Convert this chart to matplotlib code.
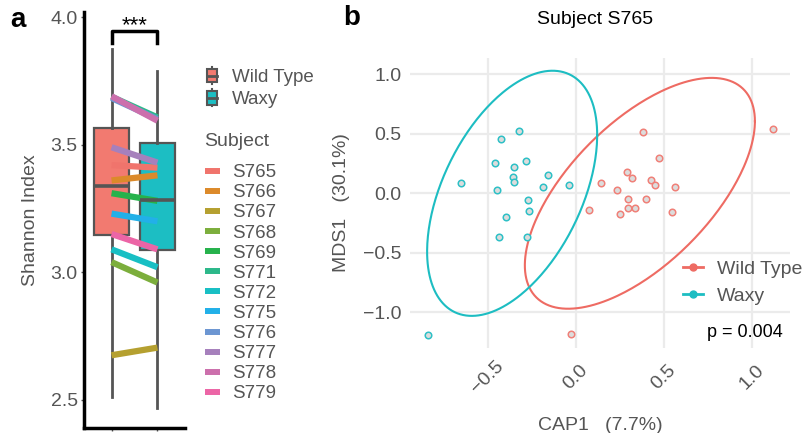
import numpy as np
import matplotlib
matplotlib.use('Agg')
import matplotlib.pyplot as plt
from matplotlib.lines import Line2D
from matplotlib.patches import Rectangle, Patch
from matplotlib.legend_handler import HandlerBase

plt.rcParams['font.family'] = ['Liberation Sans', 'DejaVu Sans']

GREY = '#555555'

# ---- panel a: Shannon index, paired by subject
groups = ['Wild Type', 'Waxy']
group_colors = ['#F27A70', '#1CBEC3']
box_q1 = [3.145, 3.086]
box_med = [3.34, 3.285]
box_q3 = [3.566, 3.508]
box_lo = [2.51, 2.47]
box_hi = [3.875, 3.79]

subjects = ['S765', 'S766', 'S767', 'S768', 'S769', 'S771',
            'S772', 'S775', 'S776', 'S777', 'S778', 'S779']
subject_colors = ['#F0746C', '#DC8A2A', '#B5A030', '#7CAE3C', '#26B24C', '#2CB88A',
                  '#18BFC4', '#22B0E8', '#6C96D2', '#A680BC', '#CC6FAC', '#EC65A6']
shannon_wt = [3.42, 3.36, 2.675, 3.04, 3.31, 3.688, 3.09, 3.23, 3.683, 3.49, 3.69, 3.15]
shannon_waxy = [3.41, 3.38, 2.705, 2.96, 3.28, 3.607, 3.02, 3.20, 3.600, 3.43, 3.594, 3.09]

# ---- panel b: CAP ordination, subject S765
wt_cap = [0.378, 1.117, 0.473, 0.291, 0.319, 0.424, 0.448, 0.563, 0.14,
          0.233, 0.295, 0.399, 0.074, 0.25, 0.297, 0.336, 0.546, -0.03]
wt_mds = [0.515, 0.537, 0.297, 0.176, 0.131, 0.114, 0.073, 0.05, 0.089,
          0.025, -0.048, -0.048, -0.143, -0.174, -0.126, -0.121, -0.154, -1.185]
waxy_cap = [-0.652, -0.424, -0.321, -0.461, -0.35, -0.284, -0.357, -0.35, -0.446,
            -0.159, -0.185, -0.036, -0.27, -0.263, -0.397, -0.435, -0.274, -0.836]
waxy_mds = [0.084, 0.454, 0.524, 0.257, 0.224, 0.274, 0.137, 0.095, 0.025,
            0.151, 0.05, 0.07, -0.059, -0.151, -0.196, -0.367, -0.367, -1.193]
point_colors = ['#F08078', '#2EC0C6']
line_colors = ['#EE6B63', '#1DBDC2']
# stat_ellipse: centre, half-width, half-height, correlation
ell_center = [(0.363, 0.0), (-0.361, 0.0)]
ell_radius = [(0.652, 0.97), (0.482, 1.03)]
ell_rho = [0.624, 0.475]


class BoxHandler(HandlerBase):
    def create_artists(self, legend, orig_handle, xdescent, ydescent,
                       width, height, fontsize, trans):
        cx = width / 2 - xdescent
        bw = height * 0.75
        y0 = -ydescent
        stub = Line2D([cx, cx], [y0 - height * 0.15, y0 + height * 1.15],
                      color=GREY, lw=1.5, transform=trans)
        box = Rectangle((cx - bw / 2, y0), bw, height, facecolor=orig_handle.get_facecolor(),
                        edgecolor=GREY, lw=1.5, transform=trans)
        mid = Line2D([cx - bw / 2, cx + bw / 2], [y0 + height / 2] * 2,
                     color=GREY, lw=2, transform=trans)
        return [stub, box, mid]


fig = plt.figure(figsize=(8.02, 4.33), dpi=100)

ax1 = fig.add_axes([84 / 802, 5 / 433, 101 / 802, 416 / 433])
stats = [dict(q1=box_q1[i], med=box_med[i], q3=box_q3[i], whislo=box_lo[i],
              whishi=box_hi[i], fliers=[]) for i in range(2)]
bp = ax1.bxp(stats, positions=[1, 2], widths=0.75, patch_artist=True, showcaps=False,
             boxprops=dict(edgecolor=GREY, linewidth=1.6),
             medianprops=dict(color=GREY, linewidth=2.6),
             whiskerprops=dict(color=GREY, linewidth=2))
for patch, c in zip(bp['boxes'], group_colors):
    patch.set_facecolor(c)

for i in range(len(subjects)):
    ax1.plot([1, 2], [shannon_wt[i], shannon_waxy[i]], color=subject_colors[i],
             lw=4.5, solid_capstyle='butt')

ax1.set_xlim(0.4, 2.6)
ax1.set_ylim(2.39, 4.02)
for s in ['top', 'right']:
    ax1.spines[s].set_visible(False)
for s in ['left', 'bottom']:
    ax1.spines[s].set_linewidth(2.5)
ax1.set_xticks([1, 2])
ax1.set_xticklabels(['', ''])
ax1.set_yticks([2.5, 3.0, 3.5, 4.0])
ax1.tick_params(length=2.5, width=1, color=GREY, labelcolor=GREY, labelsize=14, pad=2)
ax1.set_ylabel('Shannon Index', fontsize=14, color=GREY)
ax1.yaxis.set_label_coords(-0.45, 0.5)

ax1.plot([1, 1, 2, 2], [3.898, 3.945, 3.945, 3.898], color='black', lw=2.5, clip_on=False)
ax1.text(1.5, 3.945, '***', ha='center', va='baseline', fontsize=16, clip_on=False)

box_handles = [Patch(facecolor=c) for c in group_colors]
fig.legend(box_handles, groups, handler_map={Patch: BoxHandler()},
           loc='upper left', bbox_to_anchor=(203 / 802, 1 - 69 / 433),
           frameon=False, fontsize=13.5, labelcolor=GREY, handlelength=1.0,
           handletextpad=0.55, labelspacing=0.28, borderpad=0, borderaxespad=0)

fig.text(204 / 802, 1 - 141 / 433, 'Subject', ha='left', va='center', fontsize=14, color=GREY)
sub_handles = [Line2D([], [], color=c, lw=4.3, solid_capstyle='butt') for c in subject_colors]
fig.legend(sub_handles, subjects, loc='upper left', bbox_to_anchor=(205 / 802, 1 - 164 / 433),
           frameon=False, fontsize=13.5, labelcolor=GREY,
           handlelength=0.8, handletextpad=0.64, labelspacing=0.16,
           borderpad=0, borderaxespad=0)

# ---- panel b
ax2 = fig.add_axes([410 / 802, 85 / 433, 380 / 802, 290 / 433])
ax2.scatter(wt_cap, wt_mds, s=22, facecolor='#dcdcdc', edgecolor=point_colors[0], lw=1.1, zorder=3)
ax2.scatter(waxy_cap, waxy_mds, s=22, facecolor='#dcdcdc', edgecolor=point_colors[1], lw=1.1, zorder=3)

t = np.linspace(0, 2 * np.pi, 300)
for (cx, cy), (rx, ry), rho, c in zip(ell_center, ell_radius, ell_rho, line_colors):
    ax2.plot(cx + rx * np.cos(t),
             cy + ry * (rho * np.cos(t) + np.sqrt(1 - rho ** 2) * np.sin(t)),
             color=c, lw=1.5, zorder=2)

ax2.set_xlim(-0.94, 1.214)
ax2.set_ylim(-1.30, 1.137)
ax2.set_xticks([-0.5, 0.0, 0.5, 1.0])
ax2.set_yticks([-1.0, -0.5, 0.0, 0.5, 1.0])
ax2.grid(color='#EBEBEB', lw=1.6)
ax2.set_axisbelow(True)
for s in ax2.spines.values():
    s.set_visible(False)
ax2.tick_params(length=0, labelcolor=GREY, labelsize=14)
ax2.tick_params(axis='y', pad=6)
ax2.tick_params(axis='x', pad=21)
for lab in ax2.get_xticklabels():
    lab.set_rotation(45)
    lab.set_ha('center')
    lab.set_va('center')
    lab.set_rotation_mode('anchor')
ax2.set_ylabel('MDS1   (30.1%)', fontsize=14, color=GREY)
ax2.yaxis.set_label_coords(-0.158, 0.5)
ax2.set_xlabel('CAP1   (7.7%)', fontsize=14, color=GREY)
ax2.xaxis.set_label_coords(0.5, -0.238)

leg_handles = [Line2D([], [], color=c, lw=2, marker='o', markersize=5) for c in line_colors]
ax2.legend(leg_handles, groups, loc='upper left', bbox_to_anchor=(683 / 802, 1 - 260 / 433),
           bbox_transform=fig.transFigure, frameon=False, fontsize=14, labelcolor=GREY,
           handlelength=1.05, handletextpad=0.7, labelspacing=0.5, borderpad=0, borderaxespad=0)
ax2.text(0.982, 0.052, 'p = 0.004', transform=ax2.transAxes, ha='right', va='center', fontsize=13)

fig.text(595 / 802, 1 - 19 / 433, 'Subject S765', ha='center', va='center', fontsize=14)
fig.text(10 / 802, 1 - 20 / 433, 'a', ha='left', va='center', fontsize=20, weight='bold')
fig.text(343 / 802, 1 - 18 / 433, 'b', ha='left', va='center', fontsize=20, weight='bold')

fig.savefig('out.png', dpi=100)
